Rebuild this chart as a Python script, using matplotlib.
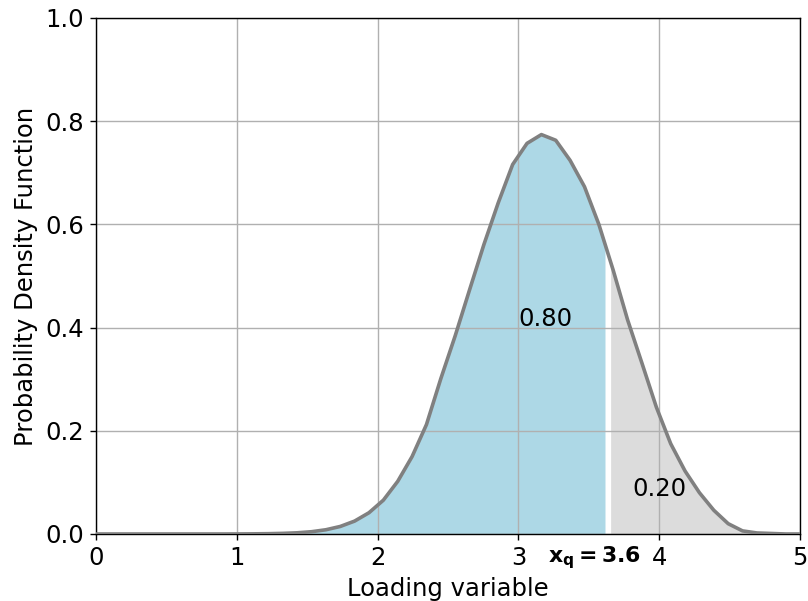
import numpy as np
import matplotlib
matplotlib.use("Agg")
import matplotlib.pyplot as plt

# loading variable grid (50 points on [0, 5]) and density read at each point
x = np.linspace(0, 5, 50)
pdf = [0, 0, 0, 0, 0, 0, 0, 0, 0, 0,
       0.0001, 0.0003, 0.0006, 0.0012, 0.0023, 0.0044, 0.0082, 0.0146, 0.0250, 0.0412,
       0.0655, 0.102, 0.150, 0.212, 0.301, 0.384, 0.473, 0.561, 0.642, 0.716,
       0.757, 0.774, 0.763, 0.724, 0.673, 0.600, 0.511, 0.415, 0.331, 0.246,
       0.175, 0.122, 0.080, 0.046, 0.020, 0.006, 0.002, 0.001, 0, 0]
pdf = np.array(pdf)

xq = 3.6
p_below = 0.80
p_above = 0.20

# blue area ends just past xq, grey area starts a bit after, leaving a thin gap
blue_end = 3.615
grey_start = 3.655

fs = 17.5
fig = plt.figure(figsize=(8.08, 6.01), dpi=100)
ax = fig.add_axes([0.1188, 0.1115, 0.8713, 0.8586])

xb = np.append(x[x < blue_end], blue_end)
yb = np.interp(xb, x, pdf)
xg = np.insert(x[x > grey_start], 0, grey_start)
yg = np.interp(xg, x, pdf)

ax.fill_between(xb, 0, yb, color='lightblue', lw=0)
ax.fill_between(xg, 0, yg, color='gainsboro', lw=0)
ax.plot(x, pdf, color='gray', lw=2.6, zorder=3)

ax.text(3.195, 0.417, f"{p_below:.2f}", fontsize=fs, ha='center', va='center')
ax.text(4.0, 0.087, f"{p_above:.2f}", fontsize=fs, ha='center', va='center')
ax.text(3.54, -0.056, r"$\mathbf{x_q = %.1f}$" % xq, fontsize=15.8, ha='center',
        va='baseline', clip_on=False)

ax.set_xlim(0, 5)
ax.set_ylim(0, 1)
ax.set_yticks(np.arange(0, 1.01, 0.2))
ax.grid(True, color='#b0b0b0', lw=1.0)
ax.tick_params(labelsize=fs, length=4.4, width=1.0, pad=4.4)
for s in ax.spines.values():
    s.set_linewidth(1.0)
ax.set_xlabel("Loading variable", fontsize=fs, labelpad=5)
ax.set_ylabel("Probability Density Function", fontsize=fs, labelpad=5)

fig.savefig("out.png", dpi=100)
